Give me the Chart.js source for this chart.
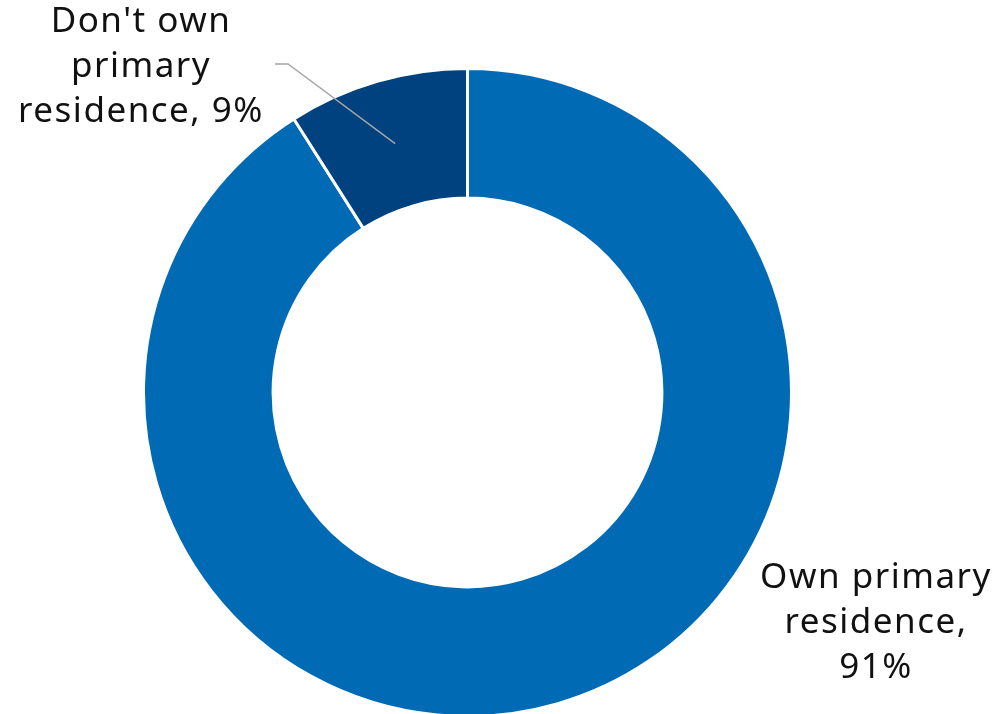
<!DOCTYPE html>
<html>
<head>
<meta charset="utf-8">
<script src="https://cdn.jsdelivr.net/npm/chart.js@4.4.0/dist/chart.umd.min.js"></script>
<style>
  html, body { margin: 0; padding: 0; background: #fff; overflow: hidden; }
  #wrap { width: 1005px; height: 718px; position: relative; }
</style>
</head>
<body>
<div id="wrap"><canvas id="ownership"></canvas></div>
<script>
let categories = ["Own primary residence", "Don't own primary residence"];
let shares = [91, 9];
let colors = ["#006ab4", "#00417f"];

// label lines for each slice, plus where the block of text is centred
let labelLines = [
  ["Own primary", "residence,", shares[0] + "%"],
  ["Don't own", "primary", "residence, " + shares[1] + "%"],
];
let labelAnchors = [
  { x: 875, y: 578 },
  { x: 140, y: 22 },
];

const sliceLabels = {
  id: "sliceLabels",
  afterDraw(chart) {
    const ctx = chart.ctx;
    const arcs = chart.getDatasetMeta(0).data;
    ctx.save();

    // leader line for the small slice
    const p = arcs[1].tooltipPosition();
    ctx.strokeStyle = "#a6a6a6";
    ctx.lineWidth = 1.5;
    ctx.beginPath();
    ctx.moveTo(275, 64);
    ctx.lineTo(288, 64);
    ctx.lineTo(p.x, p.y);
    ctx.stroke();

    ctx.fillStyle = "#111";
    ctx.font = "35px 'Noto Sans'";
    ctx.letterSpacing = "1.5px";
    ctx.textAlign = "center";
    ctx.textBaseline = "middle";
    labelLines.forEach((lines, i) => {
      lines.forEach((line, j) => {
        ctx.fillText(line, labelAnchors[i].x + 1, labelAnchors[i].y + j * 45);
      });
    });
    ctx.restore();
  },
};

new Chart(document.querySelector("#ownership"), {
  type: "doughnut",
  data: {
    labels: categories,
    datasets: [
      {
        data: shares,
        backgroundColor: colors,
        borderColor: "#fff",
        borderWidth: 3,
      },
    ],
  },
  options: {
    responsive: true,
    maintainAspectRatio: false,
    animation: false,
    cutout: "60%",
    layout: { padding: { left: 142, right: 212, top: 67, bottom: 0 } },
    plugins: {
      legend: { display: false },
      tooltip: { enabled: false },
    },
  },
  plugins: [sliceLabels],
});
</script>
</body>
</html>
